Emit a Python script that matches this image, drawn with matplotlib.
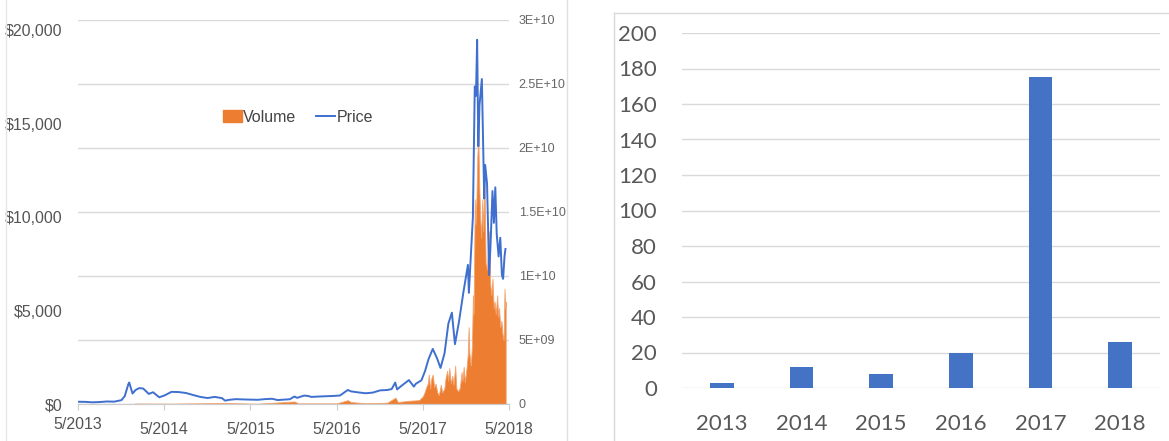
import numpy as np
import pandas as pd
import matplotlib
matplotlib.use('Agg')
import matplotlib.pyplot as plt
import matplotlib.patches as mpatches
from matplotlib.lines import Line2D

# price (USD)
price_dates = ['2013-05-01', '2013-06-01', '2013-07-01', '2013-08-01', '2013-09-01', '2013-10-01',
               '2013-11-01', '2013-11-15', '2013-11-30', '2013-12-04', '2013-12-18', '2013-12-31',
               '2014-01-15', '2014-02-01', '2014-02-25', '2014-03-15', '2014-04-10', '2014-05-01',
               '2014-06-01', '2014-07-01', '2014-08-01', '2014-09-01', '2014-10-01', '2014-11-01',
               '2014-12-01', '2015-01-01', '2015-01-14', '2015-02-01', '2015-03-01', '2015-04-01',
               '2015-05-01', '2015-06-01', '2015-07-01', '2015-08-01', '2015-08-25', '2015-09-15',
               '2015-10-15', '2015-11-04', '2015-11-15', '2015-12-15', '2016-01-01', '2016-01-15',
               '2016-02-15', '2016-03-15', '2016-04-15', '2016-05-15', '2016-06-17', '2016-07-01',
               '2016-08-01', '2016-09-01', '2016-10-01', '2016-11-01', '2016-12-01', '2016-12-20',
               '2017-01-04', '2017-01-12', '2017-02-01', '2017-03-03', '2017-03-24', '2017-04-01',
               '2017-04-25', '2017-05-10', '2017-05-25', '2017-06-12', '2017-06-30', '2017-07-15',
               '2017-08-01', '2017-08-17', '2017-09-01', '2017-09-14', '2017-10-01', '2017-10-20',
               '2017-11-08', '2017-11-12', '2017-11-26', '2017-11-29', '2017-12-07', '2017-12-12',
               '2017-12-17', '2017-12-22', '2017-12-27', '2018-01-06', '2018-01-16', '2018-01-20',
               '2018-01-28', '2018-02-06', '2018-02-12', '2018-02-20', '2018-02-26', '2018-03-04',
               '2018-03-10', '2018-03-18', '2018-03-25', '2018-04-01', '2018-04-06', '2018-04-12',
               '2018-04-16']
price = [120, 115, 90, 105, 135, 125,
         205, 420, 1050, 1150, 560, 750,
         850, 830, 540, 630, 360, 450,
         650, 640, 590, 480, 380, 320,
         380, 315, 180, 225, 260, 245,
         235, 225, 260, 280, 210, 230,
         255, 400, 330, 450, 430, 380,
         400, 415, 430, 455, 750, 675,
         620, 575, 610, 730, 750, 800,
         1150, 780, 990, 1280, 930, 1080,
         1270, 1750, 2400, 2950, 2450, 1930,
         2720, 4300, 4890, 3200, 4400, 6000,
         7450, 5950, 9300, 10000, 17000, 16500,
         19500, 13800, 16000, 17400, 11000, 12800,
         11800, 6900, 8600, 11400, 9700, 11600,
         9100, 7900, 8900, 6900, 6700, 7900,
         8300]

volume_dates = ['2013-12-27', '2014-06-01', '2015-01-14', '2015-06-01', '2015-11-04', '2015-11-20',
                '2016-05-01', '2016-06-17', '2016-07-01', '2016-09-01', '2016-12-01', '2017-01-05',
                '2017-01-15', '2017-03-01', '2017-04-15', '2017-05-01', '2017-05-08', '2017-05-15',
                '2017-05-22', '2017-05-26', '2017-06-01', '2017-06-06', '2017-06-12', '2017-06-18',
                '2017-06-24', '2017-07-01', '2017-07-08', '2017-07-16', '2017-07-22', '2017-07-31',
                '2017-08-05', '2017-08-12', '2017-08-16', '2017-08-21', '2017-08-28', '2017-09-03',
                '2017-09-08', '2017-09-15', '2017-09-20', '2017-09-28', '2017-10-05', '2017-10-12',
                '2017-10-16', '2017-10-21', '2017-10-26', '2017-11-02', '2017-11-07', '2017-11-11',
                '2017-11-14', '2017-11-20', '2017-11-25', '2017-11-29', '2017-12-02', '2017-12-07',
                '2017-12-10', '2017-12-14', '2017-12-18', '2017-12-22', '2017-12-26', '2017-12-30',
                '2018-01-03', '2018-01-08', '2018-01-12', '2018-01-17', '2018-01-22', '2018-01-28',
                '2018-02-02', '2018-02-06', '2018-02-10', '2018-02-15', '2018-02-20', '2018-02-25',
                '2018-03-01', '2018-03-06', '2018-03-12', '2018-03-16', '2018-03-20', '2018-03-25',
                '2018-03-30', '2018-04-03', '2018-04-08', '2018-04-12', '2018-04-15', '2018-04-17']
volume = [0.04e9, 0.03e9, 0.08e9, 0.02e9, 0.2e9, 0.05e9,
          0.05e9, 0.3e9, 0.15e9, 0.06e9, 0.1e9, 0.5e9,
          0.15e9, 0.25e9, 0.3e9, 0.6e9, 0.9e9, 1.3e9,
          1.6e9, 2.3e9, 1.2e9, 2.0e9, 2.3e9, 1.3e9,
          1.6e9, 0.9e9, 0.7e9, 1.5e9, 0.9e9, 1.2e9,
          2.0e9, 2.6e9, 1.8e9, 2.8e9, 1.6e9, 2.2e9,
          1.5e9, 3.0e9, 1.2e9, 1.0e9, 1.3e9, 2.5e9,
          1.8e9, 2.9e9, 1.7e9, 2.8e9, 3.8e9, 6.0e9,
          4.0e9, 3.0e9, 4.5e9, 8.5e9, 7.0e9, 16.0e9,
          14.0e9, 16.0e9, 19.5e9, 21.0e9, 17.0e9, 14.5e9,
          13.0e9, 16.0e9, 13.5e9, 17.5e9, 11.0e9, 10.5e9,
          12.5e9, 13.5e9, 9.5e9, 8.5e9, 9.8e9, 7.5e9,
          8.0e9, 7.0e9, 8.5e9, 6.8e9, 7.5e9, 6.0e9,
          6.5e9, 5.5e9, 5.0e9, 9.0e9, 7.5e9, 8.0e9]

x_ticks = ['2013-05-01', '2014-05-01', '2015-05-01', '2016-05-01', '2017-05-01', '2018-05-01']
x_tick_labels = ['5/2013', '5/2014', '5/2015', '5/2016', '5/2017', '5/2018']
price_ticks = [0, 5000, 10000, 15000, 20000]
price_tick_labels = ['$0', '$5,000', '$10,000', '$15,000', '$20,000']
vol_ticks = [0, 5e9, 1e10, 1.5e10, 2e10, 2.5e10, 3e10]
vol_tick_labels = ['0', '5E+09', '1E+10', '1.5E+10', '2E+10', '2.5E+10', '3E+10']

# right chart
years = ['2013', '2014', '2015', '2016', '2017', '2018']
counts = [3, 12, 8, 20, 175, 26]

blue = '#4472C4'
orange = '#ED7D31'
line_blue = '#3f6fcf'
grid_c = '#d9d9d9'

fig = plt.figure(figsize=(11.69, 4.41), dpi=100)

# ---- left: price + volume
ax = fig.add_axes([78 / 1169, 37 / 441, 431 / 1169, 384 / 441])
ax2 = ax.twinx()
ax.set_zorder(ax2.get_zorder() + 1)
ax.patch.set_visible(False)

vd = pd.to_datetime(volume_dates)
ax2.fill_between(vd, 0, volume, color=orange, lw=0.6, edgecolor='#f4a46e')
pdt = pd.to_datetime(price_dates)
ax.plot(pdt, price, color=line_blue, lw=1.4)

ax.set_xlim(pd.Timestamp('2013-05-01'), pd.Timestamp('2018-05-01'))
ax.set_ylim(0, 20560)
ax2.set_ylim(0, 3e10)

ax.set_xticks(pd.to_datetime(x_ticks))
ax.set_xticklabels(x_tick_labels, fontsize=11.5, color='#555555', family='Liberation Sans')
ax.get_xticklabels()[0].set_y(0.013)
ax.set_yticks(price_ticks)
ax.set_yticklabels(price_tick_labels, fontsize=11.5, color='#555555', family='Liberation Sans')
ax2.set_yticks(vol_ticks)
ax2.set_yticklabels(vol_tick_labels, fontsize=9, color='#666666', family='Liberation Sans')
ax.tick_params(axis='y', length=0, pad=11)
ax2.tick_params(axis='y', length=0, pad=7)
ax.tick_params(axis='x', length=4, color='#cccccc', pad=9)
ax2.grid(axis='y', color=grid_c, lw=1)
ax2.set_axisbelow(True)
for a in (ax, ax2):
    for s in ('top', 'left', 'right'):
        a.spines[s].set_visible(False)
    a.spines['bottom'].set_color('#cccccc')

handles = [mpatches.Patch(color=orange, label='Volume'),
           Line2D([], [], color=line_blue, lw=1.4, label='Price')]
leg = ax.legend(handles=handles, loc='center', bbox_to_anchor=(0.51, 0.747), ncol=2,
                frameon=False, handlelength=1.2, handletextpad=0.1, columnspacing=1.2,
                prop={'family': 'Liberation Sans', 'size': 11.5})
for t in leg.get_texts():
    t.set_color('#444444')

# ---- right: yearly counts
bx = fig.add_axes([682 / 1169, 53 / 441, 478 / 1169, 355 / 441])
bx.bar(range(len(years)), counts, width=0.3, color=blue, zorder=2)
bx.set_xlim(-0.5, len(years) - 0.5)
bx.set_ylim(0, 200)
bx.set_yticks(range(0, 201, 20))
bx.set_xticks(range(len(years)))
bx.set_xticklabels(years)
for lab in bx.get_xticklabels() + bx.get_yticklabels():
    lab.set_fontfamily('Lato')
    lab.set_fontsize(16)
    lab.set_color('#595959')
bx.tick_params(length=0)
bx.tick_params(axis='y', pad=18)
bx.tick_params(axis='x', pad=19)
bx.grid(axis='y', color=grid_c, lw=1, zorder=0)
bx.set_axisbelow(True)
for s in bx.spines.values():
    s.set_visible(False)

# panel borders
fig.add_artist(Line2D([6 / 1169, 6 / 1169], [0, 1], color='#e6e6e6', lw=1))
fig.add_artist(Line2D([567 / 1169, 567 / 1169], [0, 1], color='#e0e0e0', lw=1))
fig.add_artist(Line2D([614 / 1169, 614 / 1169], [0, 1 - 13 / 441], color='#d9d9d9', lw=1))
fig.add_artist(Line2D([614 / 1169, 1], [1 - 13 / 441, 1 - 13 / 441], color='#d9d9d9', lw=1))

fig.savefig('out.png', dpi=100)
